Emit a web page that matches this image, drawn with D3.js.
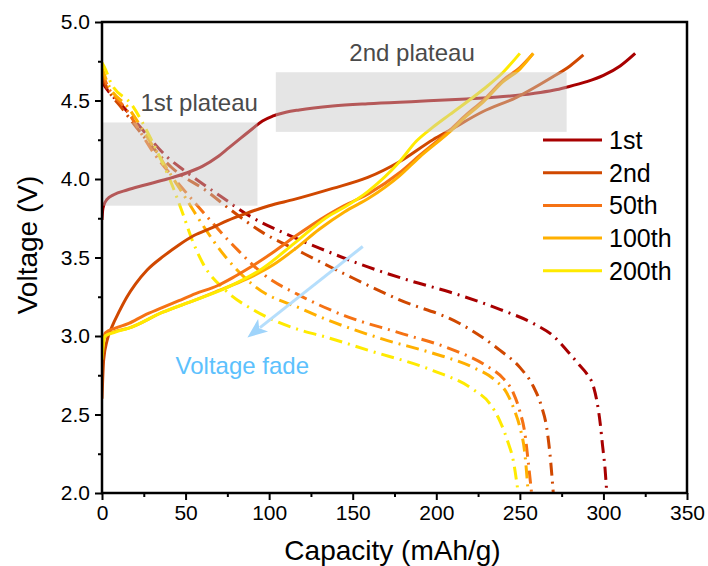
<!DOCTYPE html>
<html>
<head>
    <meta charset="utf-8">
    <script src="https://d3js.org/d3.v7.min.js"></script>
    <style>
        body { margin: 0; background: #fff; }
        text { font-family: "Liberation Sans", Arial, sans-serif; }
    </style>
</head>
<body>
<script>
    // cycle labels and colours
    let cycles = ["1st", "2nd", "50th", "100th", "200th"];
    let colors = ["#a80000", "#d04800", "#f57214", "#ffb000", "#ffea00"];

    // charge curves [capacity mAh/g, voltage V]
    let charge1st = [[0,3.74],[0.4,3.8],[1,3.83],[3,3.87],[7,3.9],[15,3.93],[25,3.96],[39,4.0],[51,4.04],[60,4.08],[69,4.14],[76,4.2],[83,4.26],[90,4.32],[96,4.37],[102,4.4],[110,4.425],[118,4.44],[138,4.465],[159,4.48],[190,4.495],[218,4.51],[240,4.525],[258,4.545],[270,4.565],[278,4.585],[290,4.62],[300,4.66],[310,4.72],[319,4.8]];
    let charge2nd = [[0,2.6],[1,2.85],[3,2.97],[6,3.06],[10,3.15],[15,3.25],[20,3.33],[27,3.42],[37,3.51],[46,3.58],[55,3.64],[66,3.69],[75,3.735],[86,3.78],[100,3.83],[115,3.87],[138,3.94],[159,4.01],[178,4.11],[198,4.25],[208,4.31],[228,4.43],[248,4.52],[268,4.64],[280,4.72],[288,4.79]];
    let charge50th = [[0,2.9],[1,2.98],[2,3.02],[8,3.05],[16,3.08],[25,3.13],[36,3.18],[46,3.225],[56,3.27],[69,3.32],[78,3.37],[86,3.42],[102,3.53],[115,3.63],[135,3.77],[145,3.83],[160,3.91],[178,4.04],[190,4.15],[208,4.31],[218,4.41],[228,4.5],[240,4.63],[250,4.71],[258,4.8]];
    let charge100th = [[0,2.88],[1,2.98],[2,3.0],[8,3.03],[16,3.05],[36,3.15],[56,3.23],[70,3.29],[86,3.36],[102,3.45],[115,3.55],[130,3.68],[145,3.79],[160,3.88],[178,4.02],[190,4.14],[208,4.3],[218,4.4],[228,4.49],[240,4.62],[250,4.7],[258,4.8]];
    let charge200th = [[0,2.85],[1,2.96],[1.8,3.0],[8,3.025],[16,3.05],[36,3.15],[56,3.23],[75,3.31],[96,3.43],[115,3.59],[135,3.76],[145,3.82],[159,3.92],[178,4.11],[188,4.24],[198,4.33],[208,4.41],[228,4.57],[240,4.68],[250,4.8]];

    // discharge curves [capacity mAh/g, voltage V]
    let discharge1st = [[0,4.62],[3,4.57],[11,4.48],[23,4.33],[39,4.14],[51,4.04],[71,3.89],[89,3.76],[108,3.66],[130,3.56],[159,3.44],[185,3.35],[208,3.28],[238,3.17],[258,3.08],[270,3.0],[278,2.91],[286,2.81],[290,2.76],[294,2.68],[296,2.59],[298,2.45],[299.5,2.3],[301,2.15],[302,2.0]];
    let discharge2nd = [[0,4.65],[3,4.58],[12,4.45],[25,4.27],[42,4.07],[63,3.92],[75,3.82],[96,3.66],[118,3.54],[148,3.38],[178,3.23],[214,3.08],[238,2.91],[250,2.8],[258,2.68],[263,2.55],[266,2.42],[268,2.25],[270,2.0]];
    let discharge50th = [[0,4.68],[3,4.6],[14,4.45],[32,4.15],[45,3.98],[53,3.88],[62,3.77],[81,3.55],[97,3.39],[118,3.26],[145,3.13],[178,3.02],[208,2.92],[230,2.81],[240,2.73],[246,2.64],[250,2.52],[253,2.38],[255,2.2],[257,2.0]];
    let discharge100th = [[0,4.71],[3,4.62],[16,4.45],[31,4.2],[44,3.98],[50,3.88],[57,3.76],[75,3.49],[91,3.32],[120,3.17],[138,3.09],[168,2.98],[198,2.89],[222,2.8],[235,2.72],[242,2.64],[247,2.52],[250,2.42],[253,2.25],[255,2.0]];
    let discharge200th = [[0,4.74],[2,4.7],[5,4.62],[18,4.47],[30,4.24],[42,3.96],[48,3.79],[54,3.61],[60,3.47],[75,3.28],[90,3.17],[105,3.09],[118,3.04],[135,2.99],[159,2.91],[198,2.78],[222,2.66],[232,2.57],[238,2.46],[243,2.32],[246,2.21],[249,2.0]];

    let chargeCurves = [charge1st, charge2nd, charge50th, charge100th, charge200th];
    let dischargeCurves = [discharge1st, discharge2nd, discharge50th, discharge100th, discharge200th];

    // axis ticks
    let xTicks = [0, 50, 100, 150, 200, 250, 300, 350];
    let yTicks = [2.0, 2.5, 3.0, 3.5, 4.0, 4.5, 5.0];

    // plateau regions [x0, x1, y0, y1] and labels
    let plateauBoxes = [[0, 93, 3.83, 4.36], [104, 278, 4.3, 4.68]];
    let plateauLabels = [["1st plateau", 23, 4.43], ["2nd plateau", 148, 4.75]];

    // voltage fade arrow [from, to] and label
    let fadeArrow = [[156, 3.57], [87, 2.99]];
    let fadeLabel = ["Voltage fade", 44, 2.76];

    let width = 708, height = 566;
    let margin = {left: 102, right: 21, top: 22, bottom: 73};

    let svg = d3.select("body").append("svg")
        .attr("width", width)
        .attr("height", height);

    let x = d3.scaleLinear().domain([0, 350]).range([margin.left, width - margin.right]);
    let y = d3.scaleLinear().domain([2, 5]).range([height - margin.bottom, margin.top]);

    let line = d3.line()
        .x(d => x(d[0]))
        .y(d => y(d[1]))
        .curve(d3.curveMonotoneX);

    let plot = svg.append("g");

    plot.append("defs").append("clipPath").attr("id", "clip")
        .append("rect")
        .attr("x", x(0)).attr("y", y(5))
        .attr("width", x(350) - x(0)).attr("height", y(2) - y(5));

    let curves = plot.append("g").attr("clip-path", "url(#clip)");

    // discharge, dash-dot
    curves.selectAll("path.dis")
        .data(dischargeCurves)
        .join("path")
        .attr("class", "dis")
        .attr("d", d => line(d))
        .attr("fill", "none")
        .attr("stroke", (d, i) => colors[i])
        .attr("stroke-width", 3)
        .attr("stroke-dasharray", "13,6,2,6");

    // charge, solid
    curves.selectAll("path.chg")
        .data(chargeCurves)
        .join("path")
        .attr("class", "chg")
        .attr("d", d => line(d))
        .attr("fill", "none")
        .attr("stroke", (d, i) => colors[i])
        .attr("stroke-width", 3);

    // grey plateau boxes over the curves
    plot.selectAll("rect.box")
        .data(plateauBoxes)
        .join("rect")
        .attr("class", "box")
        .attr("x", d => x(d[0]))
        .attr("y", d => y(d[3]))
        .attr("width", d => x(d[1]) - x(d[0]))
        .attr("height", d => y(d[2]) - y(d[3]))
        .attr("fill", "#c6c6c6")
        .attr("opacity", 0.45);

    plot.selectAll("text.plateau")
        .data(plateauLabels)
        .join("text")
        .attr("class", "plateau")
        .attr("x", d => x(d[1]))
        .attr("y", d => y(d[2]))
        .attr("font-size", 24)
        .attr("fill", "#4a4a4a")
        .text(d => d[0]);

    // voltage fade arrow
    let ax0 = x(fadeArrow[0][0]), ay0 = y(fadeArrow[0][1]);
    let ax1 = x(fadeArrow[1][0]), ay1 = y(fadeArrow[1][1]);
    let ang = Math.atan2(ay1 - ay0, ax1 - ax0);
    let headLen = 20, headW = 8;
    let bx = ax1 - headLen * Math.cos(ang), by = ay1 - headLen * Math.sin(ang);
    plot.append("line")
        .attr("x1", ax0).attr("y1", ay0)
        .attr("x2", bx + 4 * Math.cos(ang)).attr("y2", by + 4 * Math.sin(ang))
        .attr("stroke", "#b5defc")
        .attr("stroke-width", 3);
    plot.append("path")
        .attr("d", `M${ax1},${ay1}L${bx - headW * Math.sin(ang)},${by + headW * Math.cos(ang)}L${bx + 5 * Math.cos(ang)},${by + 5 * Math.sin(ang)}L${bx + headW * Math.sin(ang)},${by - headW * Math.cos(ang)}Z`)
        .attr("fill", "#9fd4fb");

    plot.append("text")
        .attr("x", x(fadeLabel[1]))
        .attr("y", y(fadeLabel[2]))
        .attr("font-size", 24)
        .attr("fill", "#5cc1fd")
        .text(fadeLabel[0]);

    // legend
    let legend = svg.append("g");
    let legRow = d => 140 + d * 32.7;
    legend.selectAll("line")
        .data(cycles)
        .join("line")
        .attr("x1", 543).attr("x2", 602)
        .attr("y1", (d, i) => legRow(i)).attr("y2", (d, i) => legRow(i))
        .attr("stroke", (d, i) => colors[i])
        .attr("stroke-width", 3);
    legend.selectAll("text")
        .data(cycles)
        .join("text")
        .attr("x", 609)
        .attr("y", (d, i) => legRow(i) + 9)
        .attr("font-size", 25)
        .attr("fill", "#000")
        .text(d => d);

    // axes
    svg.append("g")
        .attr("transform", `translate(0,${y(2)})`)
        .call(d3.axisBottom(x).tickValues(xTicks).tickSize(7).tickPadding(5).tickFormat(d3.format("d")));
    svg.append("g")
        .attr("transform", `translate(0,${y(2)})`)
        .call(d3.axisBottom(x).tickValues(d3.range(25, 350, 50)).tickSize(4).tickFormat(""));
    svg.append("g")
        .attr("transform", `translate(${x(0)},0)`)
        .call(d3.axisLeft(y).tickValues(yTicks).tickSize(7).tickPadding(5).tickFormat(d3.format(".1f")));
    svg.append("g")
        .attr("transform", `translate(${x(0)},0)`)
        .call(d3.axisLeft(y).tickValues(d3.range(2.25, 5, 0.5)).tickSize(4).tickFormat(""));

    svg.selectAll(".domain").remove();
    svg.selectAll(".tick line").attr("stroke", "#000").attr("stroke-width", 2);
    svg.selectAll(".tick text")
        .attr("font-family", "Liberation Sans, Arial, sans-serif")
        .attr("font-size", 21)
        .attr("fill", "#000");

    // frame
    svg.append("rect")
        .attr("x", x(0)).attr("y", y(5))
        .attr("width", x(350) - x(0)).attr("height", y(2) - y(5))
        .attr("fill", "none")
        .attr("stroke", "#000")
        .attr("stroke-width", 2.5);

    svg.append("text")
        .attr("x", (x(0) + x(350)) / 2 - 2)
        .attr("y", 560)
        .attr("text-anchor", "middle")
        .attr("font-size", 28)
        .text("Capacity (mAh/g)");

    svg.append("text")
        .attr("transform", `translate(37,245) rotate(-90)`)
        .attr("text-anchor", "middle")
        .attr("font-size", 28)
        .text("Voltage (V)");
</script>
</body>
</html>
